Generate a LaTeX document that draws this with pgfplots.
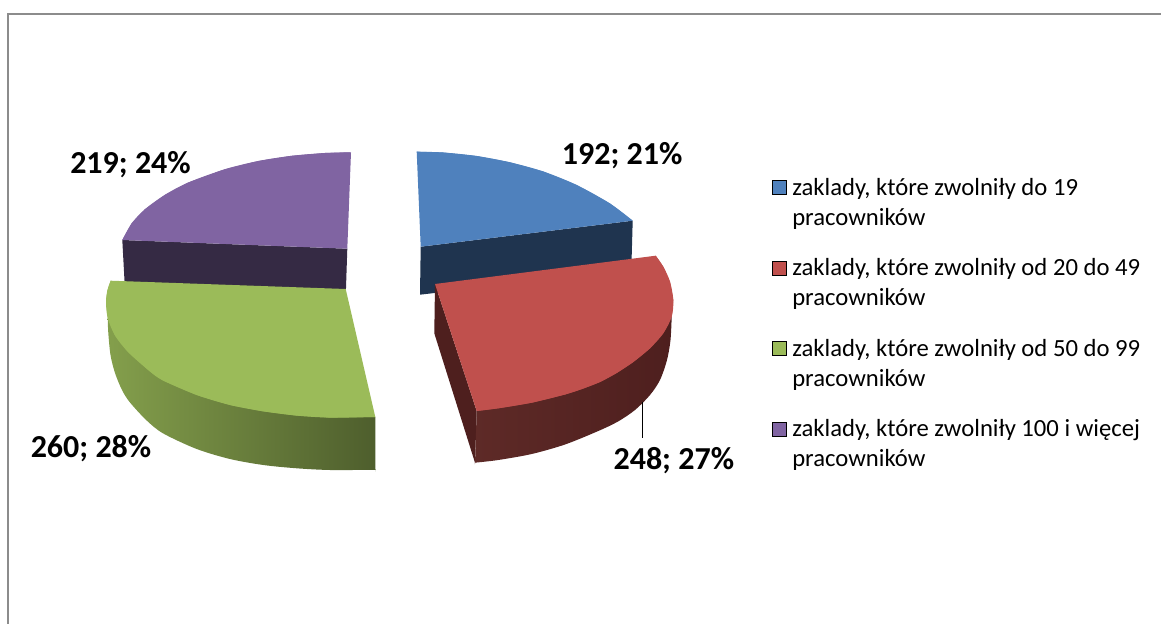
\documentclass[border=0pt]{standalone}
\usepackage{fontspec}
\setmainfont{Carlito}
\usepackage{pgfplots}
\pgfplotsset{compat=1.18}
\definecolor{sBlue}{HTML}{4F81BD}
\definecolor{sRed}{HTML}{C0504D}
\definecolor{sGreen}{HTML}{9BBB59}
\definecolor{sPurple}{HTML}{8064A2}
\definecolor{dBlue}{HTML}{1F344F}
\definecolor{dRed}{HTML}{4E1F1E}
\definecolor{dRedL}{HTML}{5E2A27}
\definecolor{dPurple}{HTML}{352A44}
\definecolor{frameGray}{HTML}{8C8C8C}
\newcommand{\lab}{\fontsize{24}{28}\selectfont\bfseries}
\newcommand{\leg}{\fontsize{18.5}{22}\selectfont}
\begin{document}
\begin{tikzpicture}[x=1pt,y=1pt]
\path[use as bounding box] (0,0) rectangle (870.75,468);
\begin{axis}[
  at={(0,0)}, anchor=south west,
  scale only axis, width=870.75pt, height=468pt,
  xmin=0, xmax=1161, ymin=0, ymax=624, y dir=reverse,
  hide axis, clip=false,
  every axis plot/.append style={forget plot},
  lgd/.style={only marks, mark=square*, mark size=5.25pt, mark options={draw=none, fill=#1}}
]
% frame
\addplot[draw=frameGray, line width=1.5pt] coordinates {(7.5,624) (7.5,14.5) (1161,14.5)};

% purple slice
\addplot[draw=none, fill=dPurple] coordinates {(122.3,240) (347.3,248.7) (345.7,296.7) (125,290)};
\addplot[smooth, draw=none, fill=sPurple] coordinates {
  (351,152.3) (325,153) (291.7,155.8) (258.3,161) (225,169.2) (188.3,182.5) (165,194.8)
  (145,209.2) (131.7,223.3) (122.3,240)};
\addplot[draw=none, fill=sPurple] coordinates {
  (351,152.3) (325,153) (291.7,155.8) (258.3,161) (225,169.2) (188.3,182.5) (165,194.8)
  (145,209.2) (131.7,223.3) (122.3,240) (347.3,248.7)};

% green slice
\addplot[smooth, draw=none, left color=sGreen!85!black, right color=sGreen!50!black] coordinates {
  (107.7,318) (108.3,333) (110.5,355) (115,373) (122,390) (130,402.5) (146.7,420.5) (163.3,433.5)
  (196.7,449) (230,459) (263.3,465) (296.7,468.3) (330,470) (372,469.8) (375.3,469.6) (375.3,468.5) (375.3,417)};
\addplot[smooth, draw=none, fill=sGreen] coordinates {
  (110.7,280.7) (107.5,290) (106,301.7) (107.7,318) (115,335.5) (128.3,352.3) (150,371.5)
  (163,380.5) (196.7,395) (230,405) (263,411.3) (296.7,415.6) (330,417.6) (375.3,417)};
\addplot[draw=none, fill=sGreen] coordinates {
  (110.7,280.7) (107.5,290) (106,301.7) (107.7,318) (115,335.5) (128.3,352.3) (150,371.5)
  (163,380.5) (196.7,395) (230,405) (263,411.3) (296.7,415.6) (330,417.6) (375.3,417) (345.7,289)};

% blue slice
\addplot[draw=none, fill=dBlue] coordinates {(420.7,246.7) (632.7,220.7) (631.3,270) (420,294.7)};
\addplot[smooth, draw=none, fill=sBlue] coordinates {
  (416.7,151.7) (443.3,152.5) (476.7,156) (510,162.3) (543.3,171.5) (576.7,185) (610,203.5) (632.7,220.7)};
\addplot[draw=none, fill=sBlue] coordinates {
  (416.7,151.7) (443.3,152.5) (476.7,156) (510,162.3) (543.3,171.5) (576.7,185) (610,203.5) (632.7,220.7) (420.7,246.7)};

% red slice
\addplot[draw=none, fill=dRed] coordinates {(435,284) (476.7,411) (475,462.7) (434.3,333.3)};
\addplot[smooth, draw=none, left color=dRedL, middle color=dRed, right color=dRed] coordinates {
  (671.7,316.7) (670.5,340) (667,360) (660,380) (650,395) (635,410) (618,421.5) (598.3,431)
  (565,444.5) (531.7,454) (498.3,460) (476,462.6) (475,462.7) (475.1,461) (476.7,411)};
\addplot[smooth, draw=none, fill=sRed] coordinates {
  (655.7,255.7) (663.3,266.7) (670,281.7) (673.3,300) (671.7,316.7) (663.3,333.3) (650,348.3)
  (633.3,362) (616.7,373) (600,382) (582,389) (565,394.5) (531.7,402.7) (498.3,408.3) (476.7,411)};
\addplot[draw=none, fill=sRed] coordinates {
  (655.7,255.7) (663.3,266.7) (670,281.7) (673.3,300) (671.7,316.7) (663.3,333.3) (650,348.3)
  (633.3,362) (616.7,373) (600,382) (582,389) (565,394.5) (531.7,402.7) (498.3,408.3) (476.7,411) (435,284)};
\addplot[draw=black, line width=0.9pt] coordinates {(642.3,401.7) (642.3,438.3)};

% data labels
\node[anchor=base west, inner sep=0pt] at (axis cs:561.7,164.5) {\lab 192; 21\%};
\node[anchor=base west, inner sep=0pt] at (axis cs:613.3,469) {\lab 248; 27\%};
\node[anchor=base west, inner sep=0pt] at (axis cs:30.5,457) {\lab 260; 28\%};
\node[anchor=base west, inner sep=0pt] at (axis cs:70,174) {\lab 219; 24\%};

% legend
\addplot[lgd=sBlue] coordinates {(779,187)};
\addplot[lgd=sRed] coordinates {(779,268)};
\addplot[lgd=sGreen] coordinates {(779,348)};
\addplot[lgd=sPurple] coordinates {(779,429)};
\node[anchor=base west, inner sep=0pt] at (axis cs:792,195.7) {\leg zaklady, które zwolniły do 19};
\node[anchor=base west, inner sep=0pt] at (axis cs:792,225.5) {\leg pracowników};
\node[anchor=base west, inner sep=0pt] at (axis cs:792,275.7) {\leg zaklady, które zwolniły od 20 do 49};
\node[anchor=base west, inner sep=0pt] at (axis cs:792,305.7) {\leg pracowników};
\node[anchor=base west, inner sep=0pt] at (axis cs:792,356) {\leg zaklady, które zwolniły od 50 do 99};
\node[anchor=base west, inner sep=0pt] at (axis cs:792,386) {\leg pracowników};
\node[anchor=base west, inner sep=0pt] at (axis cs:792,436.7) {\leg zaklady, które zwolniły 100 i więcej};
\node[anchor=base west, inner sep=0pt] at (axis cs:792,466.7) {\leg pracowników};
\end{axis}
\end{tikzpicture}
\end{document}
